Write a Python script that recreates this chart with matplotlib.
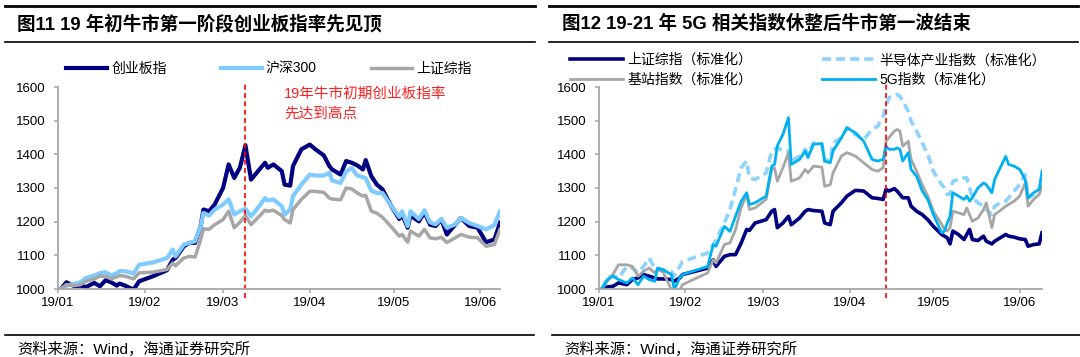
import matplotlib
matplotlib.use("Agg")
import matplotlib.pyplot as plt
import matplotlib.dates as mdates
from matplotlib.lines import Line2D
import pandas as pd

plt.rcParams['font.family'] = ['Liberation Sans', 'Noto Sans CJK SC', 'DejaVu Sans']
plt.rcParams['axes.unicode_minus'] = False

# ---- left chart: 创业板指 / 沪深300 / 上证综指 (2019-01-02 = 1000) ----
left_dates = [
    "01-02", "01-04", "01-07", "01-09", "01-11", "01-14", "01-16", "01-18", "01-20", "01-22",
    "01-23", "01-25", "01-28", "01-30", "02-04", "02-09", "02-11", "02-12", "02-15", "02-17",
    "02-19", "02-21", "02-22", "02-24", "02-26", "03-01", "03-03", "03-05", "03-07", "03-09",
    "03-11", "03-13", "03-16", "03-17", "03-19", "03-22", "03-23", "03-25", "03-26", "03-29",
    "04-01", "04-03", "04-06", "04-08", "04-09", "04-12", "04-14", "04-16", "04-18", "04-20",
    "04-21", "04-23", "04-25", "04-27", "04-30", "05-03", "05-04", "05-06", "05-07", "05-10",
    "05-12", "05-14", "05-16", "05-18", "05-20", "05-23", "05-25", "05-28", "05-31", "06-03",
    "06-06", "06-08",
]
cyb = [
    1000, 1020, 1008, 1010, 1006, 1018, 1008, 1026, 1020, 1010,
    1016, 1010, 998, 1023, 1038, 1056, 1087, 1092, 1127, 1137,
    1137, 1187, 1236, 1231, 1251, 1300, 1370, 1330, 1360, 1427,
    1325, 1345, 1375, 1360, 1370, 1350, 1310, 1307, 1365, 1415,
    1429, 1415, 1397, 1365, 1355, 1340, 1380, 1375, 1367, 1355,
    1383, 1335, 1310, 1296, 1248, 1208, 1221, 1182, 1218, 1201,
    1228, 1191, 1187, 1207, 1162, 1191, 1211, 1187, 1182, 1139,
    1147, 1197,
]
hs300 = [
    1000, 1010, 1016, 1020, 1033, 1040, 1047, 1050, 1040, 1047,
    1053, 1053, 1046, 1072, 1079, 1092, 1117, 1097, 1132, 1137,
    1142, 1187, 1226, 1218, 1236, 1251, 1266, 1221, 1231, 1238,
    1216, 1236, 1270, 1263, 1266, 1246, 1221, 1236, 1276, 1310,
    1340, 1337, 1337, 1345, 1322, 1315, 1349, 1359, 1337, 1332,
    1329, 1292, 1285, 1285, 1248, 1214, 1231, 1187, 1231, 1208,
    1234, 1198, 1192, 1208, 1182, 1192, 1211, 1196, 1187, 1177,
    1190, 1231,
]
shzz = [
    1000, 1013, 1010, 1013, 1023, 1030, 1038, 1038, 1030, 1036,
    1040, 1038, 1030, 1048, 1050, 1058, 1077, 1069, 1092, 1097,
    1095, 1147, 1179, 1177, 1191, 1206, 1231, 1182, 1198, 1218,
    1191, 1208, 1234, 1231, 1234, 1218, 1206, 1196, 1236, 1266,
    1290, 1290, 1287, 1270, 1267, 1265, 1300, 1297, 1285, 1276,
    1278, 1231, 1225, 1213, 1186, 1157, 1162, 1139, 1172, 1157,
    1177, 1152, 1149, 1154, 1138, 1152, 1162, 1154, 1152, 1127,
    1132, 1177,
]
left_labels = ["创业板指", "沪深300", "上证综指"]
left_mark = "03-09"
left_note = "19年牛市初期创业板指率\n先达到高点"

# ---- right chart: 5G related indices (standardised) ----
right_dates = [
    "01-02", "01-04", "01-06", "01-08", "01-11", "01-13", "01-15", "01-17", "01-19", "01-21",
    "01-22", "01-24", "01-27", "01-28", "01-30", "01-31", "02-09", "02-11", "02-12", "02-15",
    "02-17", "02-19", "02-21", "02-23", "02-24", "02-26", "03-02", "03-04", "03-05", "03-06",
    "03-08", "03-10", "03-11", "03-14", "03-16", "03-17", "03-19", "03-22", "03-23", "03-25",
    "03-26", "03-29", "03-31", "04-03", "04-06", "04-09", "04-11", "04-13", "04-14", "04-15",
    "04-17", "04-18", "04-19", "04-20", "04-22", "04-23", "04-25", "04-27", "04-29", "05-01",
    "05-04", "05-05", "05-06", "05-07", "05-08", "05-10", "05-12", "05-13", "05-14", "05-15",
    "05-17", "05-19", "05-20", "05-22", "05-23", "05-25", "05-27", "05-28", "05-30", "06-01",
    "06-03", "06-04", "06-06", "06-08", "06-09",
]
sh_norm = [
    1000, 1006, 1008, 1018, 1013, 1028, 1033, 1043, 1038, 1033,
    1030, 1030, 1028, 1023, 1033, 1043, 1062, 1087, 1067, 1097,
    1102, 1102, 1136, 1177, 1174, 1196, 1206, 1231, 1236, 1182,
    1196, 1216, 1191, 1211, 1231, 1236, 1233, 1231, 1196, 1191,
    1231, 1256, 1276, 1293, 1291, 1271, 1269, 1266, 1296, 1291,
    1298, 1291, 1281, 1271, 1271, 1246, 1231, 1221, 1206, 1186,
    1162, 1157, 1152, 1134, 1172, 1162, 1147, 1162, 1177, 1147,
    1144, 1157, 1142, 1134, 1142, 1152, 1162, 1157, 1154, 1149,
    1147, 1127, 1132, 1134, 1167,
]
semi_norm = [
    1000, 1033, 1040, 1033, 1067, 1062, 1048, 1067, 1092, 1062,
    1062, 1057, 1052, 1038, 1067, 1082, 1107, 1132, 1147, 1196,
    1236, 1296, 1360, 1380, 1330, 1325, 1345, 1410, 1415, 1420,
    1410, 1410, 1380, 1395, 1415, 1400, 1434, 1430, 1380, 1385,
    1434, 1449, 1479, 1459, 1444, 1474, 1484, 1514, 1544, 1568,
    1573, 1578, 1573, 1558, 1528, 1499, 1469, 1434, 1400, 1350,
    1310, 1300, 1281, 1281, 1320, 1325, 1330, 1330, 1300, 1271,
    1256, 1246, 1236, 1221, 1246, 1256, 1261, 1271, 1291, 1310,
    1340, 1270, 1280, 1290, 1310,
]
base_norm = [
    1000, 1023, 1043, 1072, 1072, 1067, 1038, 1053, 1062, 1048,
    1058, 1050, 998, 996, 998, 1013, 1048, 1087, 1077, 1132,
    1137, 1176, 1241, 1281, 1236, 1241, 1266, 1355, 1360, 1320,
    1360, 1405, 1320, 1330, 1355, 1345, 1365, 1362, 1305, 1310,
    1345, 1395, 1405, 1395, 1375, 1355, 1350, 1360, 1439, 1449,
    1469, 1474, 1469, 1424, 1439, 1385, 1350, 1310, 1276, 1231,
    1192, 1177, 1172, 1182, 1231, 1226, 1221, 1241, 1221, 1201,
    1211, 1236, 1256, 1182, 1221, 1233, 1246, 1251, 1261, 1276,
    1315, 1246, 1266, 1281, 1305,
]
g5_norm = [
    1000, 1028, 1038, 1028, 1018, 1033, 1013, 1038, 1028, 1023,
    1062, 1057, 1043, 998, 1033, 1043, 1067, 1132, 1127, 1186,
    1171, 1216, 1260, 1286, 1251, 1256, 1276, 1365, 1370, 1425,
    1459, 1509, 1370, 1385, 1410, 1390, 1430, 1432, 1380, 1375,
    1410, 1449, 1479, 1464, 1439, 1385, 1380, 1385, 1425, 1415,
    1415, 1419, 1415, 1380, 1405, 1355, 1335, 1291, 1266, 1221,
    1167, 1172, 1196, 1216, 1286, 1276, 1266, 1276, 1261, 1271,
    1300, 1315, 1310, 1286, 1325, 1360, 1394, 1370, 1365, 1355,
    1325, 1271, 1286, 1296, 1350,
]
right_labels = ["上证综指（标准化）", "半导体产业指数（标准化）", "基站指数（标准化）", "5G指数（标准化）"]
right_mark = "04-14"

titles = ["图11 19 年初牛市第一阶段创业板指率先见顶", "图12 19-21 年 5G 相关指数休整后牛市第一波结束"]
source = "资料来源：Wind，海通证券研究所"

W, H = 1080, 357
fig = plt.figure(figsize=(W / 100, H / 100), dpi=100)


def day(s):
    return pd.Timestamp("2019-" + s)


def box(x0, y0, x1, y1):
    return [x0 / W, 1 - y1 / H, (x1 - x0) / W, (y1 - y0) / H]


def rule(x0, x1, y, lw):
    fig.add_artist(Line2D([x0 / W, x1 / W], [1 - y / H] * 2, color="black", lw=lw,
                          transform=fig.transFigure))


def setup(ax, end):
    ax.set_xlim(day("01-01"), day(end))
    ax.set_ylim(1000, 1600)
    ax.set_yticks(range(1000, 1601, 100))
    ax.xaxis.set_major_locator(mdates.MonthLocator())
    ax.xaxis.set_major_formatter(mdates.DateFormatter("%y/%m"))
    for s in ["top", "right"]:
        ax.spines[s].set_visible(False)
    for s in ["left", "bottom"]:
        ax.spines[s].set_color("#A6A6A6")
        ax.spines[s].set_linewidth(1.3)
    ax.tick_params(colors="#A6A6A6", labelcolor="black", labelsize=9.5, length=3, width=1.1)
    ax.tick_params(axis="y", pad=6)
    ax.tick_params(axis="x", pad=3)


# left panel
ax1 = fig.add_axes(box(58, 87, 500, 289))
setup(ax1, "06-08")
xl = [day(d) for d in left_dates]
l1, = ax1.plot(xl, cyb, color="#000080", lw=3.0, label=left_labels[0])
l2, = ax1.plot(xl, hs300, color="#7FCBFF", lw=3.0, label=left_labels[1])
l3, = ax1.plot(xl, shzz, color="#A6A6A6", lw=2.5, label=left_labels[2])
ax1.axvline(day(left_mark), ymin=-0.045, ymax=1.025, color="red", lw=1.2,
            ls=(0, (3, 2)), clip_on=False)
ax1.text(0.511, 1.0, left_note, transform=ax1.transAxes, color="#FF2020", fontsize=10.5,
         va="top", ha="left", linespacing=1.5)
ax1.legend(handles=[l1, l2, l3], loc="center left", bbox_to_anchor=(66 / W, 1 - 69 / H),
           bbox_transform=fig.transFigure, ncol=3, frameon=False, fontsize=10,
           handlelength=2.95, handletextpad=0.3, columnspacing=3.9,
           borderpad=0, borderaxespad=0)

# right panel
ax2 = fig.add_axes(box(599, 87, 1042, 289))
setup(ax2, "06-09")
xr = [day(d) for d in right_dates]
r1, = ax2.plot(xr, sh_norm, color="#000080", lw=2.6, label=right_labels[0])
r2, = ax2.plot(xr, semi_norm, color="#8DD3FF", lw=2.6, ls=(0, (2.5, 1.4)), label=right_labels[1])
r3, = ax2.plot(xr, base_norm, color="#A6A6A6", lw=2.0, label=right_labels[2])
r4, = ax2.plot(xr, g5_norm, color="#00B0F0", lw=2.0, label=right_labels[3])
ax2.axvline(day(right_mark), ymin=-0.045, ymax=1.025, color="red", lw=1.2,
            ls=(0, (3, 2)), clip_on=False)
ax2.legend(handles=[r1, r3, r2, r4], loc="center left", bbox_to_anchor=(570 / W, 1 - 70 / H),
           bbox_transform=fig.transFigure, ncol=2, frameon=False, fontsize=10,
           handlelength=3.8, handletextpad=0.35, columnspacing=5.0, labelspacing=0.45,
           borderpad=0, borderaxespad=0)

# frames, titles, sources
for x0, x1, bx0, bx1 in [(5, 535, 5, 534), (549, 1078, 552, 1080)]:
    rule(x0, x1, 6, 2.0)
    rule(x0, x1, 42, 1.2)
    rule(bx0, bx1, 335, 1.2)
for tx, sx, t in [(17, 17, titles[0]), (562, 564, titles[1])]:
    fig.text(tx / W, 1 - 24 / H, t, fontsize=13.3, fontweight="bold", va="center", ha="left")
    fig.text(sx / W, 1 - 349 / H, source, fontsize=11, va="center", ha="left")

fig.savefig("out.png", dpi=100)
